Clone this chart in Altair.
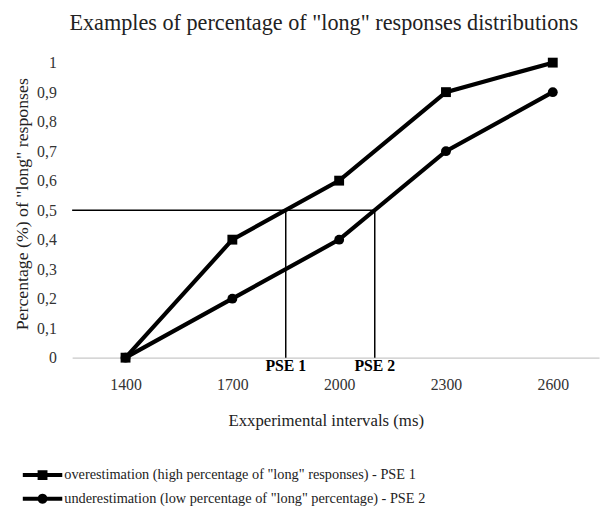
import altair as alt
import pandas as pd

intervals = [1400, 1700, 2000, 2300, 2600]
over_vals = [0.0, 0.4, 0.6, 0.9, 1.0]
under_vals = [0.0, 0.2, 0.4, 0.7, 0.9]
series_names = [
    'overestimation (high percentage of "long" responses) - PSE 1',
    'underestimation (low percentage of "long" percentage) - PSE 2',
]
pse_x = [1850, 2100]
pse_labels = ["PSE 1", "PSE 2"]
pse_level = 0.5
y_ticks = [0, 0.1, 0.2, 0.3, 0.4, 0.5, 0.6, 0.7, 0.8, 0.9, 1.0]

FONT = "Liberation Serif"

rows = []
for name, vals in zip(series_names, [over_vals, under_vals]):
    for x, v in zip(intervals, vals):
        rows.append({"interval": x, "value": v, "series": name, "legend": name})
df = pd.DataFrame(rows)

pse_df = pd.DataFrame({"x": pse_x, "label": pse_labels, "y0": [0, 0], "y1": [pse_level] * 2})
hline_df = pd.DataFrame({"x0": [1250], "x1": [max(pse_x)], "y": [pse_level]})

xscale = alt.Scale(domain=[1250, 2730], nice=False, zero=False)
yscale = alt.Scale(domain=[0, 1], nice=False)

xaxis = alt.Axis(
    values=intervals, grid=False, ticks=False, domain=True, domainColor="#c8c8c8",
    domainWidth=1.2, labelFont=FONT, labelFontSize=16, labelColor="#333",
    labelPadding=19, title="Exxperimental  intervals (ms)", titleFont=FONT,
    titleFontSize=17, titleFontWeight="normal", titleColor="#222",
    titleX=257, titleY=64, titleBaseline="middle", labelExpr="datum.value",
)
yaxis = alt.Axis(
    values=y_ticks, grid=False, ticks=False, domain=False, labelOverlap=False,
    labelFont=FONT, labelFontSize=16, labelColor="#333", labelPadding=16,
    labelExpr="replace(format(datum.value, '.1~f'), '.', ',')",
    title='Percentage (%) of "long" responses', titleFont=FONT, titleFontSize=18,
    titleFontWeight="normal", titleColor="#222", titleX=-50, titleY=143,
    titleBaseline="middle", titleAngle=-90,
)


def X(field):
    return alt.X(field, scale=xscale, axis=xaxis)


def Y(field):
    return alt.Y(field, scale=yscale, axis=yaxis)


base = alt.Chart(df)

lines = base.mark_line(color="black", strokeWidth=4.2).encode(
    x=X("interval:Q"), y=Y("value:Q"), detail="series:N",
)

points = base.mark_point(filled=True, color="black", opacity=1, size=100).encode(
    x=X("interval:Q"), y=Y("value:Q"),
    shape=alt.Shape("series:N", scale=alt.Scale(domain=series_names, range=["square", "circle"]), legend=None),
)

sq_path = "M-2,-0.2H-0.5V-0.5H0.5V-0.2H2V0.2H0.5V0.5H-0.5V0.2H-2Z"
ci_path = ("M-2,-0.2H-0.46A0.5,0.5,0,0,1,0.46,-0.2H2V0.2H0.46"
           "A0.5,0.5,0,0,1,-0.46,0.2H-2Z")

legend_pts = base.transform_filter("false").mark_point(filled=True, color="black", size=400).encode(
    x=X("interval:Q"), y=Y("value:Q"),
    shape=alt.Shape(
        "legend:N",
        scale=alt.Scale(domain=series_names, range=[sq_path, ci_path]),
        legend=alt.Legend(
            title=None, orient="none", legendX=-40, legendY=408, direction="vertical",
            symbolSize=400, symbolOpacity=1, symbolFillColor="black",
            symbolStrokeWidth=0, labelFont=FONT, labelFontSize=14.5, labelColor="#222",
            labelOffset=12, rowPadding=7, padding=0, labelLimit=600,
        ),
    ),
)

hline = alt.Chart(hline_df).mark_rule(color="black", strokeWidth=1.5).encode(
    x=X("x0:Q"), x2="x1:Q", y=Y("y:Q")
)
vlines = alt.Chart(pse_df).mark_rule(color="black", strokeWidth=1.5).encode(
    x=X("x:Q"), y=Y("y0:Q"), y2="y1:Q"
)
pse_text = alt.Chart(pse_df).mark_text(
    font=FONT, fontSize=16, fontWeight="bold", baseline="top", dy=1, color="black"
).encode(
    x=X("x:Q"), y=Y("y0:Q"), text="label:N"
)

chart = alt.layer(hline, vlines, lines, points, legend_pts, pse_text).resolve_scale(
    shape="independent"
).resolve_legend(shape="independent").properties(
    width=534, height=299,
    title=alt.Title(
        'Examples of percentage of "long" responses distributions',
        font=FONT, fontSize=22.5, fontWeight="normal", color="#222", anchor="middle",
        dx=-12, offset=20,
    ),
    autosize=alt.AutoSizeParams(type="none"),
    padding={"left": 65, "top": 52, "right": 4, "bottom": 150},
).configure_view(stroke=None)

chart.save("out.html", embed_options={"renderer": "svg", "actions": False})
